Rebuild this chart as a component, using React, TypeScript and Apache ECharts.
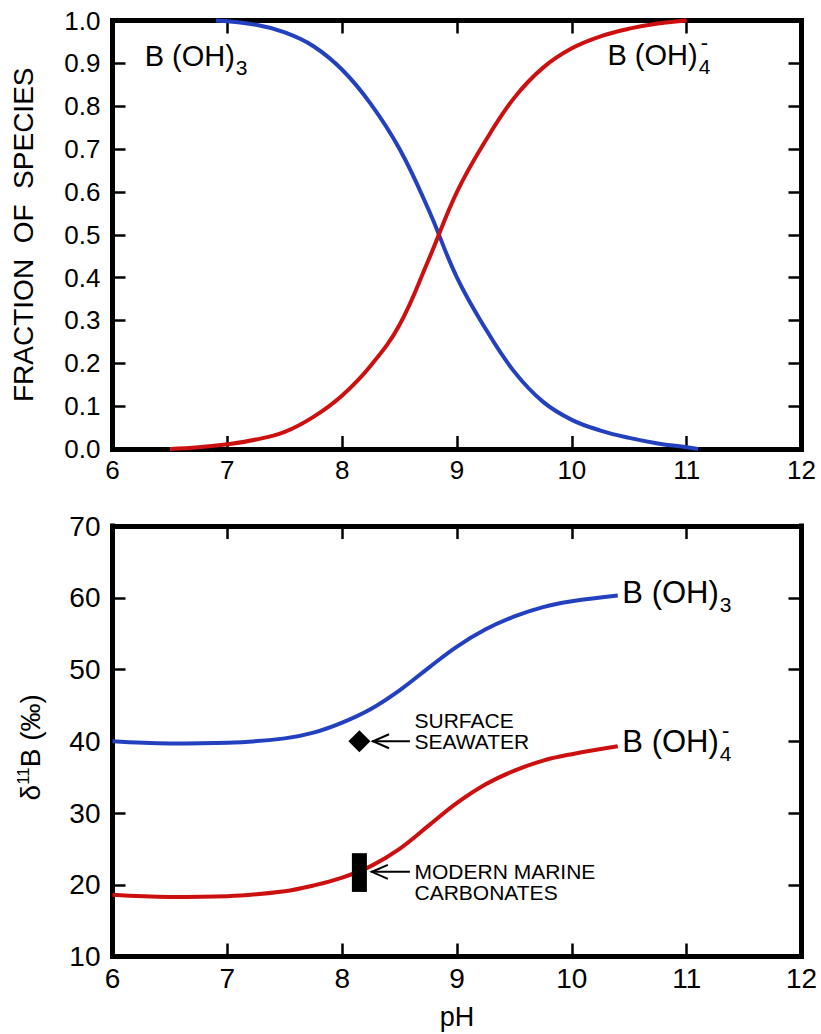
import React, { useEffect, useRef } from "react";
import * as echarts from "echarts";

const FONT = '"Liberation Sans", Arial, Helvetica, sans-serif';
const BLUE = "#2340bf";
const RED = "#cc1010";

// Top panel: fraction of species vs pH
const topAcidPh = [6.9, 7.25, 7.5, 7.75, 8.0, 8.25, 8.5, 8.75, 9.0, 9.25, 9.5, 9.75, 10.0, 10.25, 10.5, 10.75, 11.0, 11.1];
const topAcid = [1.0, 0.99, 0.972, 0.94, 0.885, 0.805, 0.7, 0.56, 0.4, 0.28, 0.18, 0.11, 0.068, 0.043, 0.026, 0.013, 0.004, 0.0];
const topBasePh = [6.5, 6.75, 7.0, 7.25, 7.5, 7.75, 8.0, 8.25, 8.5, 8.75, 9.0, 9.25, 9.5, 9.75, 10.0, 10.25, 10.5, 10.75, 11.0];
const topBase = [0.0, 0.004, 0.011, 0.022, 0.04, 0.075, 0.125, 0.195, 0.29, 0.44, 0.6, 0.72, 0.82, 0.89, 0.935, 0.963, 0.981, 0.993, 1.0];

// Bottom panel: delta 11B vs pH
const botPh = [6.0, 6.5, 7.0, 7.5, 7.75, 8.0, 8.25, 8.5, 8.75, 9.0, 9.25, 9.5, 9.75, 10.0, 10.4];
const botAcid = [40.0, 39.7, 39.8, 40.4, 41.2, 42.6, 44.5, 47.1, 50.2, 53.2, 55.6, 57.4, 58.7, 59.5, 60.3];
const botBase = [18.6, 18.3, 18.4, 19.1, 19.9, 21.0, 22.6, 25.0, 28.2, 31.4, 34.0, 35.9, 37.3, 38.2, 39.3];

// Observations
const seawater = [8.15, 40.0];
const carbonates = [8.15, 19.0, 24.4]; // pH, low, high

// Annotation anchors (data coords)
const seawaterArrow = { tip: [8.26, 40.0], tail: [8.59, 40.0] };
const carbArrow = { tip: [8.25, 21.8], tail: [8.59, 21.8] };
const notes = [
  { text: "SURFACE", at: [8.63, 42.9] },
  { text: "SEAWATER", at: [8.63, 39.9] },
  { text: "MODERN MARINE", at: [8.63, 21.9] },
  { text: "CARBONATES", at: [8.63, 18.9] },
];
const topLabels = [
  { main: "B (OH)", sub: "3", sup: "", at: [6.28, 0.918] },
  { main: "B (OH)", sub: "4", sup: "-", at: [10.31, 0.92] },
];
const botLabels = [
  { main: "B (OH)", sub: "3", sup: "", at: [10.44, 60.8] },
  { main: "B (OH)", sub: "4", sup: "-", at: [10.44, 40.0] },
];

const xTicks = { min: 6, max: 12, interval: 1 };
const yTicksTop = { min: 0, max: 1, interval: 0.1 };
const yTicksBot = { min: 10, max: 70, interval: 10 };

function measure(text: string, size: number) {
  const c = document.createElement("canvas").getContext("2d")!;
  c.font = `${size}px ${FONT}`;
  return c.measureText(text).width;
}

const axisLine = { show: true, onZero: false, lineStyle: { color: "#000", width: 5, cap: "square" } };
const axisTick = { show: true, inside: true, length: 13, lineStyle: { color: "#000", width: 2.5 } };

function xAxis(grid: number, pos: string, labels: boolean, size: number, extra: any = {}) {
  return {
    type: "value",
    gridIndex: grid,
    position: pos,
    ...xTicks,
    axisLine,
    axisTick,
    splitLine: { show: false },
    axisLabel: { show: labels, fontSize: size, fontFamily: FONT, color: "#000", margin: 8 },
    ...extra,
  };
}
function yAxis(grid: number, pos: string, labels: boolean, ticks: any, size: number, extra: any = {}) {
  return {
    type: "value",
    gridIndex: grid,
    position: pos,
    ...ticks,
    axisLine,
    axisTick,
    splitLine: { show: false },
    axisLabel: { show: labels, fontSize: size, fontFamily: FONT, color: "#000", margin: 12 },
    ...extra,
  };
}

const pairs = (xs: number[], ys: number[]) => xs.map((x, i) => [x, ys[i]]);

export default function App() {
  const ref = useRef<HTMLDivElement>(null);
  useEffect(() => {
    const chart = echarts.init(ref.current!, null, { renderer: "svg" });
    const lineSeries = (xi: number, yi: number, data: number[][], color: string) => ({
      type: "line",
      xAxisIndex: xi,
      yAxisIndex: yi,
      data,
      smooth: 0.4,
      symbol: "none",
      clip: false,
      lineStyle: { color, width: 4 },
      z: 2,
    });
    const option: any = {
      animation: false,
      backgroundColor: "#fff",
      grid: [
        { left: 112.5, right: 19.5, top: 20.5, height: 428.5 },
        { left: 112.5, right: 19.5, top: 526, height: 430.5 },
      ],
      xAxis: [
        xAxis(0, "bottom", true, 26),
        xAxis(0, "top", false, 26),
        xAxis(1, "bottom", true, 28, {
          name: "pH",
          nameLocation: "middle",
          nameGap: 47,
          nameTextStyle: { fontSize: 27, fontFamily: FONT, color: "#000" },
        }),
        xAxis(1, "top", false, 28),
      ],
      yAxis: [
        yAxis(0, "left", true, yTicksTop, 26, {
          axisLabel: {
            show: true, fontSize: 26, fontFamily: FONT, color: "#000", margin: 12,
            formatter: (v: number) => v.toFixed(1),
          },
          name: "FRACTION  OF  SPECIES",
          nameLocation: "middle",
          nameGap: 75,
          nameTextStyle: { fontSize: 28, fontFamily: FONT, color: "#000" },
        }),
        yAxis(0, "right", false, yTicksTop, 26),
        yAxis(1, "left", true, yTicksBot, 28, {
          name: "{d|δ}{s|11}{b|B (‰)}",
          nameLocation: "middle",
          nameGap: 66,
          nameTextStyle: {
            fontSize: 28, fontFamily: FONT, color: "#000", padding: [0, 12, 0, 0],
            rich: {
              d: { fontSize: 28, fontFamily: FONT, color: "#000", lineHeight: 32 },
              s: { fontSize: 17, fontFamily: FONT, color: "#000", verticalAlign: "top" },
              b: { fontSize: 28, fontFamily: FONT, color: "#000", lineHeight: 32 },
            },
          },
        }),
        yAxis(1, "right", false, yTicksBot, 28),
      ],
      series: [
        lineSeries(0, 0, pairs(topAcidPh, topAcid), BLUE),
        lineSeries(0, 0, pairs(topBasePh, topBase), RED),
        lineSeries(2, 2, pairs(botPh, botAcid), BLUE),
        lineSeries(2, 2, pairs(botPh, botBase), RED),
        {
          type: "scatter",
          xAxisIndex: 2,
          yAxisIndex: 2,
          data: [seawater],
          symbol: "diamond",
          symbolSize: [22, 22],
          itemStyle: { color: "#000", opacity: 1 },
          z: 5,
        },
        {
          type: "custom",
          xAxisIndex: 2,
          yAxisIndex: 2,
          data: [carbonates],
          encode: { x: 0, y: [1, 2] },
          z: 5,
          renderItem: (params: any, api: any) => {
            const x = api.value(0);
            const lo = api.value(1);
            const hi = api.value(2);
            const a = api.coord([x, hi]);
            const b = api.coord([x, lo]);
            return {
              type: "rect",
              shape: { x: a[0] - 7.5, y: a[1], width: 15, height: b[1] - a[1] },
              style: { fill: "#000" },
            };
          },
        },
      ],
    };
    chart.setOption(option);

    const toPx = (si: number, p: number[]) => chart.convertToPixel({ seriesIndex: si }, p) as number[];
    const g: any[] = [];
    const txt = (x: number, y: number, text: string, size: number, align = "left") => ({
      type: "text",
      z: 10,
      style: {
        x, y, text, fontSize: size, fontFamily: FONT, fill: "#000",
        textAlign: align, textVerticalAlign: "middle",
      },
    });
    const label = (si: number, l: any, size: number, subSize: number, subDy: number, supDy: number) => {
      const p = toPx(si, l.at);
      const w = measure(l.main, size);
      g.push(txt(p[0], p[1], l.main, size));
      const sx = p[0] + w + 1;
      g.push(txt(sx, p[1] + subDy, l.sub, subSize));
      if (l.sup) {
        const sw = measure(l.sub, subSize);
        g.push(txt(sx + sw / 2, p[1] + supDy, l.sup, 22, "center"));
      }
    };
    topLabels.forEach((l) => label(0, l, 29, 21, 12, -12));
    botLabels.forEach((l) => label(2, l, 31, 21, 12, -11));

    const arrow = (a: any) => {
      const t = toPx(2, a.tip);
      const e = toPx(2, a.tail);
      g.push({ type: "line", z: 10, shape: { x1: t[0], y1: t[1], x2: e[0], y2: e[1] }, style: { stroke: "#000", lineWidth: 2 } });
      g.push({
        type: "polyline",
        z: 10,
        shape: { points: [[t[0] + 17, t[1] - 7], [t[0] + 1, t[1]], [t[0] + 17, t[1] + 7]] },
        style: { stroke: "#000", lineWidth: 2, fill: null },
      });
    };
    arrow(seawaterArrow);
    arrow(carbArrow);
    notes.forEach((s) => {
      const p = toPx(2, s.at);
      g.push(txt(p[0], p[1], s.text, 21));
    });
    chart.setOption({ graphic: g });

    return () => chart.dispose();
  }, []);
  return <div ref={ref} style={{ position: "absolute", left: 0, top: 0, width: 821, height: 1034 }} />;
}
